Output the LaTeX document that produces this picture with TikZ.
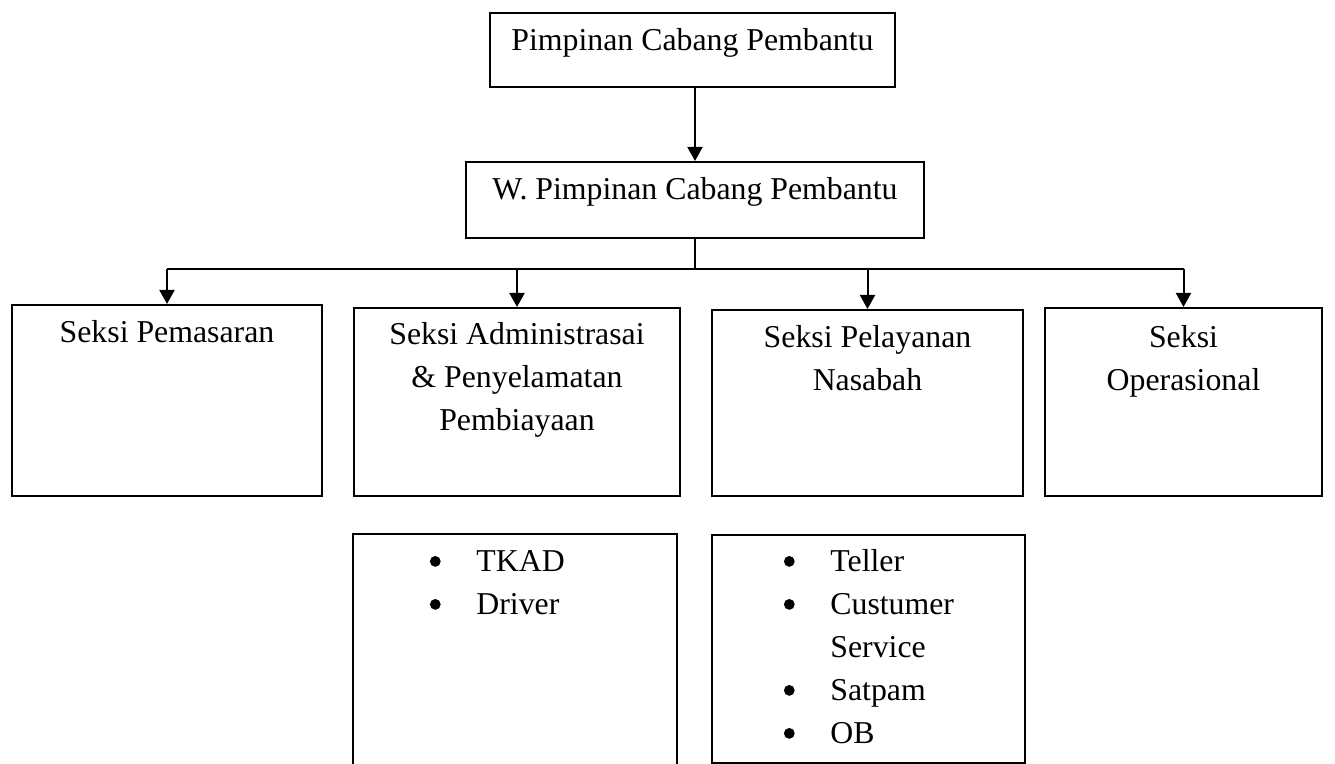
\documentclass[tikz,border=0pt]{standalone}
\usepackage{fontspec}
\setmainfont{Liberation Serif}
\usetikzlibrary{arrows.meta,calc}
\newcommand{\bul}{\makebox[23.25pt][l]{\raisebox{2.6pt}{\tikz\fill (0,0) circle (2.7pt);}}}
\newcommand{\nobul}{\hspace*{23.25pt}}
\begin{document}
\begin{tikzpicture}[x=0.5pt,y=-0.5pt,
  box/.style={draw,line width=1pt,rectangle,inner sep=0pt,anchor=north west},
  lbl/.style={anchor=base,inner sep=0pt,font=\fontsize{15.9pt}{21.5pt}\selectfont},
  conn/.style={line width=1pt},
  arr/.style={line width=1pt,-{Triangle[length=7pt,width=7.5pt]}}]
\useasboundingbox (0,0) rectangle (1335,764);
% top boxes
\node[box,minimum width=405pt*0.5,minimum height=74pt*0.5] (pc) at (489,12) {};
\node[lbl] (pct) at ($(pc.north)+(0,39)$) {Pimpinan Cabang Pembantu};
\node[box,minimum width=458pt*0.5,minimum height=76pt*0.5] (wpc) at (465,161) {};
\node[lbl] (wpct) at ($(wpc.north)+(0,39)$) {W. Pimpinan Cabang Pembantu};
% row boxes
\node[box,minimum width=310pt*0.5,minimum height=191pt*0.5] (s1) at (11,304) {};
\node[box,minimum width=326pt*0.5,minimum height=188pt*0.5] (s2) at (353,307) {};
\node[box,minimum width=311pt*0.5,minimum height=186pt*0.5] (s3) at (711,309) {};
\node[box,minimum width=277pt*0.5,minimum height=188pt*0.5] (s4) at (1044,307) {};
\node[lbl] (s1t) at ($(s1.north)+(0,39)$) {\begin{tabular}[t]{@{}c@{}}Seksi Pemasaran\end{tabular}};
\node[lbl] (s2t) at ($(s2.north)+(0,38)$) {\begin{tabular}[t]{@{}c@{}}Seksi Administrasai\\\& Penyelamatan\\Pembiayaan\end{tabular}};
\node[lbl] (s3t) at ($(s3.north)+(0,39)$) {\begin{tabular}[t]{@{}c@{}}Seksi Pelayanan\\Nasabah\end{tabular}};
\node[lbl] (s4t) at ($(s4.north)+(0,41)$) {\begin{tabular}[t]{@{}c@{}}Seksi\\Operasional\end{tabular}};
% bottom boxes
\node[inner sep=0pt,minimum width=323pt*0.5,minimum height=240pt*0.5,anchor=north west] (b1) at (353,534) {};
\draw[conn] (b1.south west) |- (b1.north east) -- (b1.south east);
\node[box,minimum width=313pt*0.5,minimum height=228pt*0.5] (b2) at (711,534) {};
\node[lbl,anchor=base west] (b1t) at ($(b1.north west)+(76.5,38)$) {\begin{tabular}[t]{@{}l@{}}\bul TKAD\\\bul Driver\end{tabular}};
\node[lbl,anchor=base west] (b2t) at ($(b2.north west)+(72.5,38)$) {\begin{tabular}[t]{@{}l@{}}\bul Teller\\\bul Custumer\\\nobul Service\\\bul Satpam\\\bul OB\end{tabular}};
% connectors
\coordinate (j) at ($(wpc.south)+(0,30)$);
\draw[arr] (wpc.north |- pc.south) -- (wpc.north);
\draw[conn] (wpc.south) -- (j);
\draw[conn] (j -| s1.north) -- (j -| s4.north);
\draw[arr] (j -| s1.north) -- (s1.north);
\draw[arr] (j -| s2.north) -- (s2.north);
\draw[arr] (j -| s3.north) -- (s3.north);
\draw[arr] (j -| s4.north) -- (s4.north);
\end{tikzpicture}
\end{document}
